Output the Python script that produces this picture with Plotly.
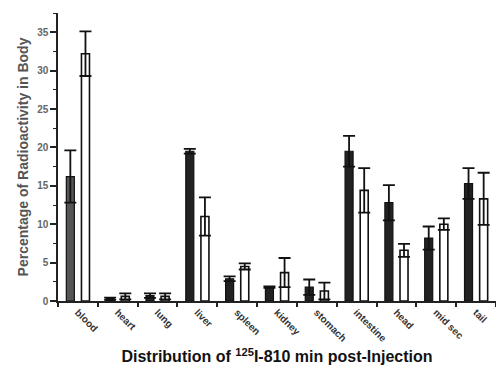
import plotly.graph_objects as go

tissues = ["blood", "heart", "lung", "liver", "spleen", "kidney", "stomach",
           "intestine", "head", "mid sec", "tail"]
dark_vals = [16.2, 0.3, 0.7, 19.5, 2.9, 1.8, 1.8, 19.5, 12.8, 8.2, 15.3]
dark_err = [3.4, 0.15, 0.3, 0.3, 0.3, 0.1, 1.0, 2.0, 2.3, 1.5, 2.0]
white_vals = [32.2, 0.6, 0.6, 11.0, 4.5, 3.7, 1.3, 14.4, 6.6, 10.0, 13.3]
white_err = [2.9, 0.4, 0.4, 2.5, 0.4, 1.9, 1.1, 2.9, 0.85, 0.75, 3.4]
y_ticks = [0, 5, 10, 15, 20, 25, 30, 35]

dark_colors = ["#555555"] + ["#222222"] * (len(tissues) - 1)

fig = go.Figure()
fig.add_trace(go.Bar(
    x=tissues, y=dark_vals,
    marker=dict(color=dark_colors, line=dict(color="#111111", width=1.2)),
    error_y=dict(type="data", array=dark_err, visible=True,
                 color="#111111", thickness=1.8, width=6),
    showlegend=False,
))
fig.add_trace(go.Bar(
    x=tissues, y=white_vals,
    marker=dict(color="white", line=dict(color="#111111", width=1.6)),
    error_y=dict(type="data", array=white_err, visible=True,
                 color="#111111", thickness=1.8, width=6),
    showlegend=False,
))

fig.update_layout(
    width=496, height=372,
    margin=dict(l=58, r=0, t=13, b=71),
    paper_bgcolor="white", plot_bgcolor="white",
    barmode="group", bargap=0.24, bargroupgap=0.47,
    font=dict(family="Liberation Sans, Arial, sans-serif", color="#222222"),
    xaxis=dict(
        showline=True, linecolor="#222222", linewidth=1.5,
        ticks="outside", tickson="boundaries", ticklen=4, tickwidth=1.5,
        tickcolor="#222222",
        tickangle=45, tickfont=dict(size=10, color="#333333", weight="bold"),
        showgrid=False, zeroline=False,
        title=dict(text="<b>Distribution of <sup>125</sup>I-810 min post-Injection</b>",
                   font=dict(size=16, color="#111111"), standoff=8),
    ),
    yaxis=dict(
        range=[0, 37.5], showline=True, linecolor="#222222", linewidth=1.5,
        tickvals=y_ticks, ticks="outside", ticklen=6, tickwidth=1.5,
        tickcolor="#222222",
        minor=dict(dtick=2.5, ticks="outside", ticklen=3, tickwidth=1.2,
                   tickcolor="#222222", showgrid=False),
        tickfont=dict(size=10, color="#666666", weight="bold"),
        showgrid=False, zeroline=False,
        title=dict(text="<b>Percentage of Radioactivity in Body</b>",
                   font=dict(size=14, color="#555555"), standoff=5),
    ),
)

fig.write_html("out.html")
